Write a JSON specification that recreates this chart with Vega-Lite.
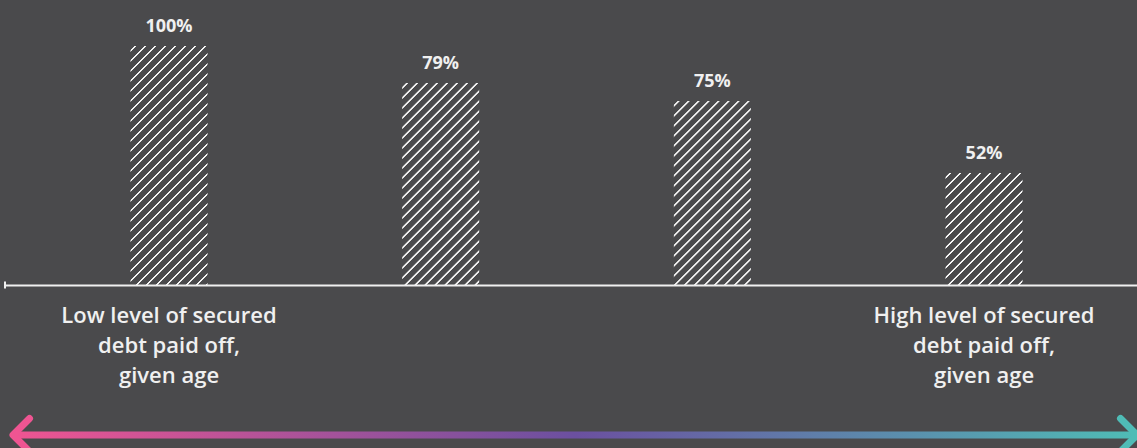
{
  "$schema": "https://vega.github.io/schema/vega-lite/v6.json",
  "width": 1132,
  "height": 239,
  "autosize": {"type": "none"},
  "padding": {"left": 5, "top": 46, "right": 0, "bottom": 163},
  "background": "#4a4a4c",
  "config": {"view": {"stroke": null}, "font": "Open Sans"},
  "params": [
    {"name": "hatch", "value": [
      {"offset":0.0109,"color":"#4a4a4c"},{"offset":0.0134,"color":"#f4f4f4"},{"offset":0.0178,"color":"#f4f4f4"},{"offset":0.0203,"color":"#4a4a4c"},
      {"offset":0.0422,"color":"#4a4a4c"},{"offset":0.0447,"color":"#f4f4f4"},{"offset":0.0491,"color":"#f4f4f4"},{"offset":0.0516,"color":"#4a4a4c"},
      {"offset":0.0734,"color":"#4a4a4c"},{"offset":0.0759,"color":"#f4f4f4"},{"offset":0.0803,"color":"#f4f4f4"},{"offset":0.0828,"color":"#4a4a4c"},
      {"offset":0.1047,"color":"#4a4a4c"},{"offset":0.1072,"color":"#f4f4f4"},{"offset":0.1116,"color":"#f4f4f4"},{"offset":0.1141,"color":"#4a4a4c"},
      {"offset":0.1359,"color":"#4a4a4c"},{"offset":0.1384,"color":"#f4f4f4"},{"offset":0.1428,"color":"#f4f4f4"},{"offset":0.1453,"color":"#4a4a4c"},
      {"offset":0.1672,"color":"#4a4a4c"},{"offset":0.1697,"color":"#f4f4f4"},{"offset":0.1741,"color":"#f4f4f4"},{"offset":0.1766,"color":"#4a4a4c"},
      {"offset":0.1984,"color":"#4a4a4c"},{"offset":0.2009,"color":"#f4f4f4"},{"offset":0.2053,"color":"#f4f4f4"},{"offset":0.2078,"color":"#4a4a4c"},
      {"offset":0.2297,"color":"#4a4a4c"},{"offset":0.2322,"color":"#f4f4f4"},{"offset":0.2366,"color":"#f4f4f4"},{"offset":0.2391,"color":"#4a4a4c"},
      {"offset":0.2609,"color":"#4a4a4c"},{"offset":0.2634,"color":"#f4f4f4"},{"offset":0.2678,"color":"#f4f4f4"},{"offset":0.2703,"color":"#4a4a4c"},
      {"offset":0.2922,"color":"#4a4a4c"},{"offset":0.2947,"color":"#f4f4f4"},{"offset":0.2991,"color":"#f4f4f4"},{"offset":0.3016,"color":"#4a4a4c"},
      {"offset":0.3234,"color":"#4a4a4c"},{"offset":0.3259,"color":"#f4f4f4"},{"offset":0.3303,"color":"#f4f4f4"},{"offset":0.3328,"color":"#4a4a4c"},
      {"offset":0.3547,"color":"#4a4a4c"},{"offset":0.3572,"color":"#f4f4f4"},{"offset":0.3616,"color":"#f4f4f4"},{"offset":0.3641,"color":"#4a4a4c"},
      {"offset":0.3859,"color":"#4a4a4c"},{"offset":0.3884,"color":"#f4f4f4"},{"offset":0.3928,"color":"#f4f4f4"},{"offset":0.3953,"color":"#4a4a4c"},
      {"offset":0.4172,"color":"#4a4a4c"},{"offset":0.4197,"color":"#f4f4f4"},{"offset":0.4241,"color":"#f4f4f4"},{"offset":0.4266,"color":"#4a4a4c"},
      {"offset":0.4484,"color":"#4a4a4c"},{"offset":0.4509,"color":"#f4f4f4"},{"offset":0.4553,"color":"#f4f4f4"},{"offset":0.4578,"color":"#4a4a4c"},
      {"offset":0.4797,"color":"#4a4a4c"},{"offset":0.4822,"color":"#f4f4f4"},{"offset":0.4866,"color":"#f4f4f4"},{"offset":0.4891,"color":"#4a4a4c"},
      {"offset":0.5109,"color":"#4a4a4c"},{"offset":0.5134,"color":"#f4f4f4"},{"offset":0.5178,"color":"#f4f4f4"},{"offset":0.5203,"color":"#4a4a4c"},
      {"offset":0.5422,"color":"#4a4a4c"},{"offset":0.5447,"color":"#f4f4f4"},{"offset":0.5491,"color":"#f4f4f4"},{"offset":0.5516,"color":"#4a4a4c"},
      {"offset":0.5734,"color":"#4a4a4c"},{"offset":0.5759,"color":"#f4f4f4"},{"offset":0.5803,"color":"#f4f4f4"},{"offset":0.5828,"color":"#4a4a4c"},
      {"offset":0.6047,"color":"#4a4a4c"},{"offset":0.6072,"color":"#f4f4f4"},{"offset":0.6116,"color":"#f4f4f4"},{"offset":0.6141,"color":"#4a4a4c"},
      {"offset":0.6359,"color":"#4a4a4c"},{"offset":0.6384,"color":"#f4f4f4"},{"offset":0.6428,"color":"#f4f4f4"},{"offset":0.6453,"color":"#4a4a4c"},
      {"offset":0.6672,"color":"#4a4a4c"},{"offset":0.6697,"color":"#f4f4f4"},{"offset":0.6741,"color":"#f4f4f4"},{"offset":0.6766,"color":"#4a4a4c"},
      {"offset":0.6984,"color":"#4a4a4c"},{"offset":0.7009,"color":"#f4f4f4"},{"offset":0.7053,"color":"#f4f4f4"},{"offset":0.7078,"color":"#4a4a4c"},
      {"offset":0.7297,"color":"#4a4a4c"},{"offset":0.7322,"color":"#f4f4f4"},{"offset":0.7366,"color":"#f4f4f4"},{"offset":0.7391,"color":"#4a4a4c"},
      {"offset":0.7609,"color":"#4a4a4c"},{"offset":0.7634,"color":"#f4f4f4"},{"offset":0.7678,"color":"#f4f4f4"},{"offset":0.7703,"color":"#4a4a4c"},
      {"offset":0.7922,"color":"#4a4a4c"},{"offset":0.7947,"color":"#f4f4f4"},{"offset":0.7991,"color":"#f4f4f4"},{"offset":0.8016,"color":"#4a4a4c"},
      {"offset":0.8234,"color":"#4a4a4c"},{"offset":0.8259,"color":"#f4f4f4"},{"offset":0.8303,"color":"#f4f4f4"},{"offset":0.8328,"color":"#4a4a4c"},
      {"offset":0.8547,"color":"#4a4a4c"},{"offset":0.8572,"color":"#f4f4f4"},{"offset":0.8616,"color":"#f4f4f4"},{"offset":0.8641,"color":"#4a4a4c"},
      {"offset":0.8859,"color":"#4a4a4c"},{"offset":0.8884,"color":"#f4f4f4"},{"offset":0.8928,"color":"#f4f4f4"},{"offset":0.8953,"color":"#4a4a4c"},
      {"offset":0.9172,"color":"#4a4a4c"},{"offset":0.9197,"color":"#f4f4f4"},{"offset":0.9241,"color":"#f4f4f4"},{"offset":0.9266,"color":"#4a4a4c"},
      {"offset":0.9484,"color":"#4a4a4c"},{"offset":0.9509,"color":"#f4f4f4"},{"offset":0.9553,"color":"#f4f4f4"},{"offset":0.9578,"color":"#4a4a4c"},
      {"offset":0.9797,"color":"#4a4a4c"},{"offset":0.9822,"color":"#f4f4f4"},{"offset":0.9866,"color":"#f4f4f4"},{"offset":0.9891,"color":"#4a4a4c"}
    ]}
  ],
  "data": {"values": [
    {"pos": 1, "value": 100, "label": "100%", "note": ["Low level of secured", "debt paid off,", "given age"]},
    {"pos": 2, "value": 84.5, "label": "79%"},
    {"pos": 3, "value": 77, "label": "75%"},
    {"pos": 4, "value": 46.9, "label": "52%", "note": ["High level of secured", "debt paid off,", "given age"]}
  ]},
  "encoding": {
    "x": {"field": "pos", "type": "quantitative",
      "scale": {"domain": [0.3963, 4.5631], "nice": false, "zero": false, "padding": 0},
      "axis": {"domain": true, "domainColor": "#f0f0f0", "domainWidth": 2, "ticks": false, "labels": false, "grid": false, "title": null, "zindex": 1}},
    "y": {"field": "value", "type": "quantitative",
      "scale": {"domain": [0, 100], "nice": false}, "axis": null}
  },
  "layer": [
    {
      "mark": {"type": "bar", "width": 77,
        "fill": {"expr": "{gradient: 'linear', x1: 0, y1: 0, x2: 24640 / (5929 + pow(datum.value * 2.39, 2)), y2: datum.value * 2.39 * 320 / (5929 + pow(datum.value * 2.39, 2)), stops: hatch}"}}
    },
    {
      "mark": {"type": "text", "baseline": "alphabetic", "dy": -14, "fontSize": 18, "fontWeight": 700, "fill": "#f0f0f0"},
      "encoding": {"text": {"field": "label"}}
    },
    {
      "transform": [{"filter": "isValid(datum.note)"}],
      "mark": {"type": "text", "baseline": "alphabetic", "dy": 38, "fontSize": 22, "fontWeight": 600, "lineHeight": 30, "fill": "#f0f0f0"},
      "encoding": {"y": {"datum": 0}, "text": {"field": "note"}}
    },
    {
      "transform": [{"filter": "datum.pos == 1"}],
      "mark": {"type": "tick", "orient": "vertical", "size": 7, "thickness": 2, "color": "#f0f0f0", "opacity": 1},
      "encoding": {"x": {"datum": 0.3963}, "y": {"datum": 0}}
    },
    {
      "transform": [{"filter": "datum.pos == 1"}],
      "mark": {"type": "rect", "xOffset": 8, "yOffset": 146.5, "y2Offset": 153.5,
        "fill": {"gradient": "linear", "x1": 0, "y1": 0, "x2": 1, "y2": 0,
          "stops": [{"offset": 0, "color": "#ef5592"}, {"offset": 0.5, "color": "#6b50a0"}, {"offset": 1, "color": "#4fbcb6"}]}},
      "encoding": {"x": {"datum": 0.3963}, "x2": {"datum": 4.5631}, "y": {"datum": 0}, "y2": {"datum": 0}}
    },
    {
      "transform": [{"filter": "datum.pos == 1"}],
      "mark": {"type": "point", "shape": "M1,-1L0,0L1,1", "size": 1089, "filled": false, "stroke": "#ef5592", "strokeWidth": 7, "strokeCap": "round", "strokeJoin": "round", "opacity": 1, "xOffset": 8, "yOffset": 150},
      "encoding": {"x": {"datum": 0.3963}, "y": {"datum": 0}}
    },
    {
      "transform": [{"filter": "datum.pos == 1"}],
      "mark": {"type": "point", "shape": "M-1,-1L0,0L-1,1", "size": 1089, "filled": false, "stroke": "#4fbcb6", "strokeWidth": 7, "strokeCap": "round", "strokeJoin": "round", "opacity": 1, "yOffset": 150},
      "encoding": {"x": {"datum": 4.5631}, "y": {"datum": 0}}
    }
  ]
}
